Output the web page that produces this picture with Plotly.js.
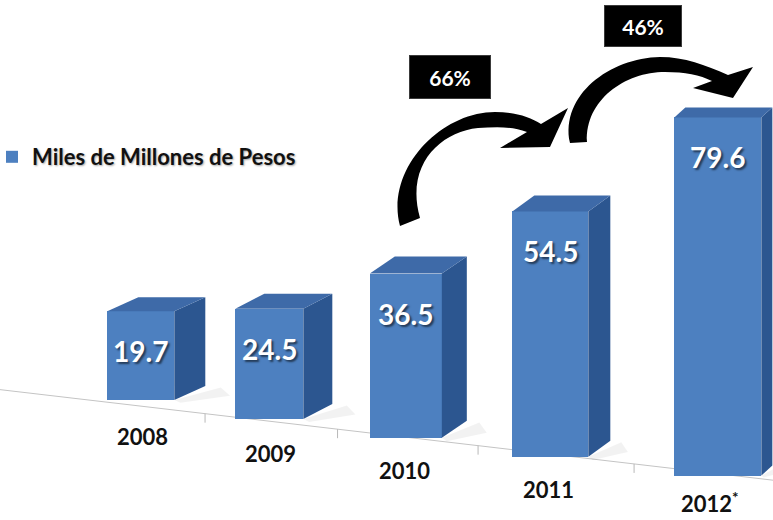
<!DOCTYPE html>
<html>
<head>
<meta charset="utf-8">
<script src="https://cdn.plot.ly/plotly-3.0.1.min.js"></script>
<style>
  html, body { margin: 0; padding: 0; background: #ffffff; }
  #chart { width: 773px; height: 520px; }
</style>
</head>
<body>
<div id="chart"></div>
<script>
// ---------------- data ----------------
const years = ['2008', '2009', '2010', '2011', '2012'];
const yearLabels = ['2008', '2009', '2010', '2011', '2012<sup>*</sup>'];
const values = [19.7, 24.5, 36.5, 54.5, 79.6];
const seriesName = 'Miles de Millones de Pesos';
const growthLabels = ['66%', '46%'];

// ---------------- style / geometry ----------------
const W = 773, H = 520;
const X_RANGE = [-0.9045, 4.482];
const Y_RANGE = [-26.67, 88.89];
const PX_PER_X = W / (X_RANGE[1] - X_RANGE[0]);
const PX_PER_Y = H / (Y_RANGE[1] - Y_RANGE[0]);
const TILT = 4.2;                          // perspective slope of the floor (y units per category)
const widthPx = [67, 68, 72, 76, 87];      // perspective bar widths
const perspShiftPx = [11, -4, -11, -10, 14]; // perspective horizontal correction
const depthXPx = [31, 29, 25, 22, 11];     // 3D side depth
const depthYPx = [14, 15, 17, 16, 10];     // 3D top depth
const yearShiftPx = [-37, -35, -33, -33, -27];
const yearXShiftPx = [2, 1, -1, -2, -8];

const FRONT = '#4d80c0', SIDE = '#2c5690', TOP = '#3e6aa8';
const FONT = 'Lato, "Open Sans", sans-serif';

const idx = years.map((_, i) => i);
const bases = idx.map(i => -TILT * i);
const w = widthPx.map(p => p / PX_PER_X);
const sh = perspShiftPx.map(p => p / PX_PER_X);
const dx = depthXPx.map(p => p / PX_PER_X);
const dy = depthYPx.map(p => p / PX_PER_Y);
const tops = values.map((v, i) => bases[i] + v);

const traces = [];
idx.forEach(i => {
  const xl = i + sh[i] - w[i] / 2, xr = i + sh[i] + w[i] / 2;
  const b = bases[i], t = tops[i];
  traces.push({
    type: 'scatter', mode: 'lines', fill: 'toself', fillcolor: 'rgba(0,0,0,0.05)',
    x: [xr, xr + dx[i] * 1.5, xr + dx[i] * 1.8, xr + dx[i] * 0.2, xr],
    y: [b, b + dy[i] * 0.9, b + dy[i] * 0.3, b - dy[i] * 0.2, b],
    line: { width: 0 }, showlegend: false, hoverinfo: 'skip'
  });
  traces.push({
    type: 'scatter', mode: 'lines', fill: 'toself', fillcolor: SIDE,
    x: [xr, xr, xr + dx[i], xr + dx[i], xr],
    y: [b, t, t + dy[i], b + dy[i], b],
    line: { width: 0 }, showlegend: false, hoverinfo: 'skip'
  });
  traces.push({
    type: 'scatter', mode: 'lines', fill: 'toself', fillcolor: TOP,
    x: [xl, xr, xr + dx[i], xl + dx[i], xl],
    y: [t, t, t + dy[i], t + dy[i], t],
    line: { width: 0 }, showlegend: false, hoverinfo: 'skip'
  });
});
traces.push({
  type: 'bar', x: idx, y: values, base: bases,
  width: w, offset: w.map((ww, i) => -ww / 2 + sh[i]),
  name: seriesName,
  marker: { color: FRONT, line: { width: 0 } },
  showlegend: true, hoverinfo: 'skip'
});

function P(x, y) { return (x / W).toFixed(5) + ',' + (1 - y / H).toFixed(5); }
function path(cmds) {
  return cmds.map(c => {
    const op = c[0];
    const pts = [];
    for (let k = 1; k < c.length; k += 2) pts.push(P(c[k], c[k + 1]));
    return op + pts.join(' ');
  }).join(' ') + ' Z';
}
const arrow1 = path([
  ['M', 400, 226],
  ['C', 385, 170, 440, 112, 495, 112],
  ['C', 515, 112, 530, 117, 541, 124],
  ['L', 568, 108], ['L', 550, 147], ['L', 500, 148], ['L', 527, 132],
  ['C', 512, 126, 495, 127, 478, 128],
  ['C', 440, 132, 405, 165, 420, 218]
]);
const arrow2 = path([
  ['M', 570, 143],
  ['C', 560, 95, 610, 58, 660, 57],
  ['C', 685, 57, 705, 65, 728, 75],
  ['L', 753, 67], ['L', 733, 98], ['L', 693, 88], ['L', 712, 81],
  ['C', 700, 75, 685, 72, 665, 72],
  ['C', 625, 72, 585, 100, 587, 142]
]);

const shapes = [
  { type: 'line', xref: 'x', yref: 'y', layer: 'below',
    x0: X_RANGE[0], y0: -TILT * X_RANGE[0] - 1.5, x1: X_RANGE[1], y1: -TILT * X_RANGE[1] + 1,
    line: { color: '#c4c4c4', width: 1 } },
  { type: 'path', xref: 'paper', yref: 'paper', path: arrow1, fillcolor: '#000', line: { width: 0 } },
  { type: 'path', xref: 'paper', yref: 'paper', path: arrow2, fillcolor: '#000', line: { width: 0 } }
];
for (let i = 0; i < years.length - 1; i++) {
  const xm = (i + sh[i] + i + 1 + sh[i + 1]) / 2;
  const yl = -TILT * X_RANGE[0] - 1.5 + (xm - X_RANGE[0]) * ((-TILT * X_RANGE[1] + 1) - (-TILT * X_RANGE[0] - 1.5)) / (X_RANGE[1] - X_RANGE[0]);
  shapes.push({ type: 'line', xref: 'x', yref: 'y', layer: 'below',
    x0: xm, y0: yl, x1: xm, y1: yl - 2,
    line: { color: '#b8b8b8', width: 1 } });
}

const annotations = [];
idx.forEach(i => {
  annotations.push({
    x: i, y: tops[i], xref: 'x', yref: 'y', xshift: perspShiftPx[i], yshift: -40, showarrow: false,
    text: String(values[i]),
    font: { family: FONT, size: 28, color: '#ffffff', weight: 'bold',
            shadow: '2px 2px 2px rgba(0,0,0,0.55)' }
  });
  annotations.push({
    x: i, y: bases[i], xref: 'x', yref: 'y',
    xshift: perspShiftPx[i] + yearXShiftPx[i], yshift: yearShiftPx[i], showarrow: false,
    text: yearLabels[i],
    font: { family: FONT, size: 22, color: '#111111', weight: 'bold' }
  });
});
const boxes = [
  { cx: 450, cy: 77, w: 78, h: 40 },
  { cx: 643, cy: 26, w: 74, h: 38 }
];
growthLabels.forEach((g, k) => {
  const b = boxes[k];
  annotations.push({
    xref: 'paper', yref: 'paper', x: b.cx / W, y: 1 - b.cy / H,
    xanchor: 'center', yanchor: 'middle', showarrow: false,
    text: g, width: b.w, height: b.h, bgcolor: '#000000',
    bordercolor: '#3a3a3a', borderwidth: 1,
    font: { family: FONT, size: 21, color: '#ffffff', weight: 'bold' }
  });
});

const layout = {
  width: W, height: H,
  margin: { l: 0, r: 0, t: 0, b: 0, pad: 0 },
  paper_bgcolor: '#ffffff', plot_bgcolor: '#ffffff',
  barmode: 'overlay', bargap: 0,
  xaxis: { type: 'linear', range: X_RANGE, visible: false, fixedrange: true },
  yaxis: { type: 'linear', range: Y_RANGE, visible: false, fixedrange: true, zeroline: false },
  showlegend: true,
  legend: {
    x: 0, xanchor: 'left', y: 1 - 157 / H, yanchor: 'middle',
    indentation: -8,
    bgcolor: 'rgba(0,0,0,0)', borderwidth: 0,
    font: { family: FONT, size: 22, color: '#111111', weight: 'bold',
            shadow: '1px 1px 2px rgba(0,0,0,0.35)' }
  },
  shapes: shapes,
  annotations: annotations
};

Plotly.newPlot('chart', traces, layout, { staticPlot: true, displayModeBar: false });
</script>
</body>
</html>
